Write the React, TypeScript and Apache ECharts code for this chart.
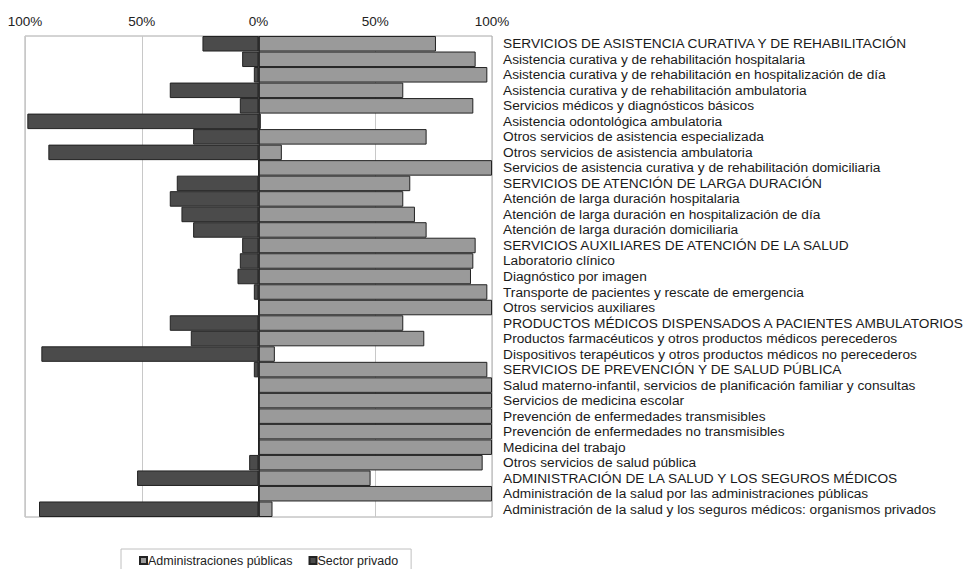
import React, { useEffect, useRef } from "react";
import * as echarts from "echarts";

const categories: string[] = [
  "SERVICIOS DE ASISTENCIA CURATIVA Y DE REHABILITACIÓN",
  "Asistencia curativa y de rehabilitación hospitalaria",
  "Asistencia curativa y de rehabilitación en hospitalización de día",
  "Asistencia curativa y de rehabilitación ambulatoria",
  "Servicios médicos y diagnósticos básicos",
  "Asistencia odontológica ambulatoria",
  "Otros servicios de asistencia especializada",
  "Otros servicios de asistencia ambulatoria",
  "Servicios de asistencia curativa y de rehabilitación domiciliaria",
  "SERVICIOS DE ATENCIÓN DE LARGA DURACIÓN",
  "Atención de larga duración hospitalaria",
  "Atención de larga duración en hospitalización de día",
  "Atención de larga duración domiciliaria",
  "SERVICIOS AUXILIARES DE ATENCIÓN DE LA SALUD",
  "Laboratorio clínico",
  "Diagnóstico por imagen",
  "Transporte de pacientes y rescate de emergencia",
  "Otros servicios auxiliares",
  "PRODUCTOS MÉDICOS DISPENSADOS A PACIENTES AMBULATORIOS",
  "Productos farmacéuticos y otros productos médicos perecederos",
  "Dispositivos terapéuticos y otros productos médicos no perecederos",
  "SERVICIOS DE PREVENCIÓN Y DE SALUD PÚBLICA",
  "Salud materno-infantil, servicios de planificación familiar y consultas",
  "Servicios de medicina escolar",
  "Prevención de enfermedades transmisibles",
  "Prevención de enfermedades no transmisibles",
  "Medicina del trabajo",
  "Otros servicios de salud pública",
  "ADMINISTRACIÓN DE LA SALUD Y LOS SEGUROS MÉDICOS",
  "Administración de la salud por las administraciones públicas",
  "Administración de la salud y los seguros médicos: organismos privados",
];

const publico: number[] = [
  76, 93, 98, 62, 92, 1, 72, 10, 100, 65, 62, 67, 72, 93, 92, 91, 98, 100, 62,
  71, 7, 98, 100, 100, 100, 100, 100, 96, 48, 100, 6,
];

const privado: number[] = [
  24, 7, 2, 38, 8, 99, 28, 90, 0, 35, 38, 33, 28, 7, 8, 9, 2, 0, 38, 29, 93, 2,
  0, 0, 0, 0, 0, 4, 52, 0, 94,
];

const seriesNames: string[] = ["Administraciones públicas", "Sector privado"];

const FONT = "'Liberation Sans', Arial, sans-serif";

export default function App() {
  const ref = useRef<HTMLDivElement>(null);
  useEffect(() => {
    if (!ref.current) return;
    const chart = echarts.init(ref.current, undefined, { renderer: "svg" });
    chart.setOption({
      animation: false,
      backgroundColor: "#ffffff",
      textStyle: { fontFamily: FONT },
      grid: {
        left: 25,
        right: 471,
        top: 36,
        bottom: 52,
        containLabel: false,
        outerBoundsMode: "none",
        show: true,
        borderColor: "#a8a8a8",
        borderWidth: 1,
      },
      xAxis: {
        type: "value",
        position: "top",
        min: -100,
        max: 100,
        interval: 50,
        axisLine: { show: false },
        axisTick: { show: false },
        axisLabel: {
          formatter: (v: number) => Math.abs(v) + "%",
          color: "#222",
          fontSize: 13.5,
          fontFamily: FONT,
          margin: 8,
        },
        splitLine: { show: true, lineStyle: { color: "#c8c8c8", width: 1 } },
      },
      yAxis: {
        type: "category",
        data: categories,
        inverse: true,
        position: "right",
        axisLine: { show: false, onZero: false },
        axisTick: { show: false },
        axisLabel: {
          interval: 0,
          color: "#1a1a1a",
          fontSize: 13.7,
          fontFamily: FONT,
          align: "left",
          margin: 11,
          padding: [2, 0, 0, 0],
        },
      },
      legend: {
        data: seriesNames,
        left: 121,
        top: 549,
        orient: "horizontal",
        borderColor: "#c0c0c0",
        borderWidth: 1,
        padding: [5, 13, 4, 18],
        itemWidth: 7,
        itemHeight: 7,
        itemGap: 16,
        icon: "rect",
        textStyle: { color: "#222", fontSize: 12.5, fontFamily: FONT, padding: [0, 0, 0, -4] },
      },
      series: [
        {
          name: seriesNames[0],
          type: "bar",
          data: publico,
          barWidth: "100%",
          barGap: "-100%",
          itemStyle: { color: "#9a9a9a", borderColor: "#222", borderWidth: 1 },
          markLine: {
            silent: true,
            symbol: "none",
            label: { show: false },
            lineStyle: { color: "#222", type: "solid", width: 1.5 },
            data: [{ xAxis: 0 }],
          },
        },
        {
          name: seriesNames[1],
          type: "bar",
          data: privado.map((v) => -v),
          barWidth: "100%",
          barGap: "-100%",
          itemStyle: { color: "#4b4b4b", borderColor: "#222", borderWidth: 1 },
        },
      ],
    });
    return () => chart.dispose();
  }, []);
  return (
    <div
      ref={ref}
      style={{ position: "fixed", left: 0, top: 0, width: 963, height: 569 }}
    />
  );
}
